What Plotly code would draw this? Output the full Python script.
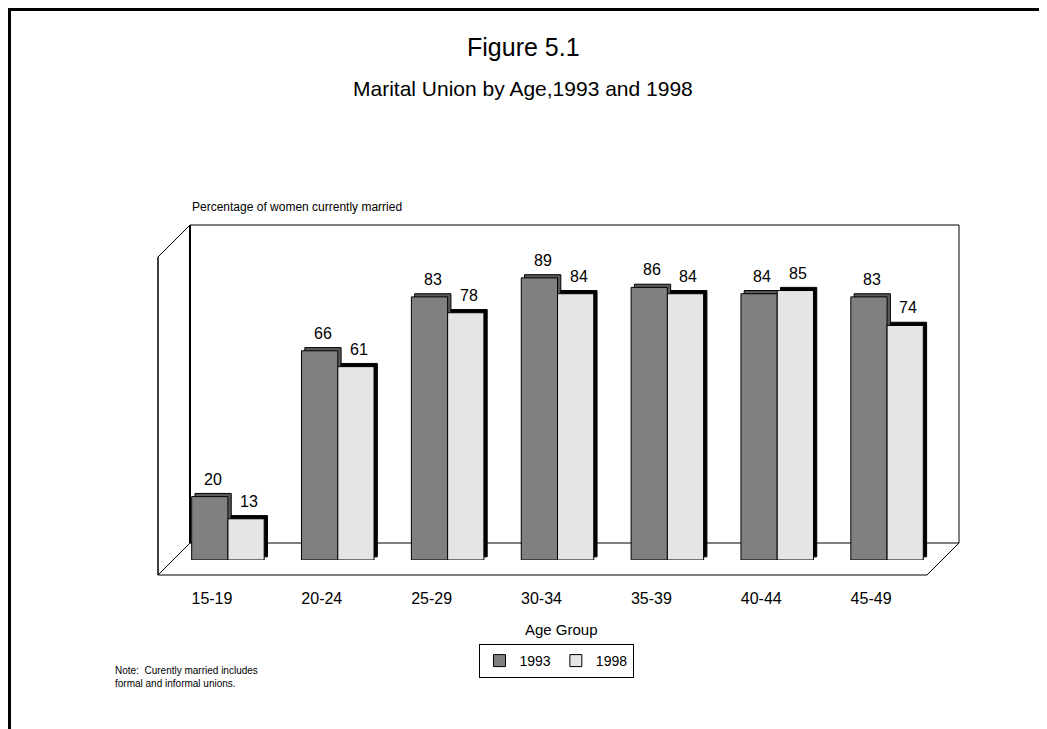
import plotly.graph_objects as go

# -------------------------------
# Data
# -------------------------------
age_groups = ["15-19", "20-24", "25-29", "30-34", "35-39", "40-44", "45-49"]
pct_1993 = [20, 66, 83, 89, 86, 84, 83]
pct_1998 = [13, 61, 78, 84, 84, 85, 74]

FONT = "Liberation Sans, Arial, sans-serif"
PAGE = 8                                   # the html body margin
W, H = 1047 - PAGE, 729 - PAGE
L0, T0, PW, PH = 173, 243, 769, 317        # plot area = middle plane of the 3D box (page pixels)
BAR_W = 0.33                               # bar width in category units
DX, DY = 0.03, 1                           # small 3D depth for each bar


def px(x):
    return (x - L0) / PW


def py(y):
    return (T0 + PH - y) / PH


fig = go.Figure()

# depth ("shadow") of the bars, drawn behind the front faces
fig.add_trace(go.Bar(x=age_groups, y=pct_1993, base=DY, width=BAR_W, offset=-BAR_W + DX,
                     marker=dict(color="#5a5a5a", line=dict(color="black", width=1)),
                     showlegend=False, hoverinfo="skip"))
fig.add_trace(go.Bar(x=age_groups, y=pct_1993, width=BAR_W, offset=-BAR_W, name="1993",
                     marker=dict(color="#808080", line=dict(color="black", width=1))))
fig.add_trace(go.Bar(x=age_groups, y=pct_1998, base=DY, width=BAR_W, offset=DX,
                     marker=dict(color="black", line=dict(color="black", width=1)),
                     showlegend=False, hoverinfo="skip"))
fig.add_trace(go.Bar(x=age_groups, y=pct_1998, width=BAR_W, offset=0, name="1998",
                     marker=dict(color="white", line=dict(color="black", width=1),
                                 pattern=dict(shape=".", fgcolor="#a8a8a8", bgcolor="#f6f6f6",
                                              size=2, solidity=0.5))))

# value labels
for vals, shift in [(pct_1993, -18), (pct_1998, 18)]:
    for a, v in zip(age_groups, vals):
        fig.add_annotation(x=a, y=v, text=str(v), showarrow=False, yanchor="bottom",
                           xshift=shift + 3, yshift=7, font=dict(size=16, color="black"))

# 3D box outline (page pixel positions)
box = [
    ((190, 225), (959, 225), 1), ((959, 225), (959, 543), 1), ((190, 225), (190, 543), 2),
    ((190, 543), (959, 543), 1), ((190, 225), (158, 257), 1), ((158, 257), (158, 575), 1.5),
    ((158, 575), (190, 543), 1), ((158, 575), (927, 575), 1), ((927, 575), (959, 543), 1),
]
for (x0, y0), (x1, y1), w in box:
    fig.add_shape(type="line", xref="paper", yref="paper", x0=px(x0), y0=py(y0),
                  x1=px(x1), y1=py(y1), line=dict(color="black", width=w), layer="below")

# page frame (top and left edges), kept just inside the figure
fig.add_shape(type="line", xref="paper", yref="paper", x0=px(PAGE), y0=py(PAGE + 1.5),
              x1=px(1060), y1=py(PAGE + 1.5), line=dict(color="black", width=3))
fig.add_shape(type="line", xref="paper", yref="paper", x0=px(PAGE + 1.5), y0=py(PAGE),
              x1=px(PAGE + 1.5), y1=py(740), line=dict(color="black", width=3))

# texts
texts = [
    ("Figure 5.1", 523, 47, 25, "center"),
    ("Marital Union by Age,1993 and 1998", 523, 89, 21, "center"),
    ("Percentage of women currently married", 190, 207, 12, "left"),
    ("Age Group", 561, 629, 15, "center"),
    ("Note:  Curently married includes<br>formal and informal unions.", 113, 677, 10, "left"),
]
for t, x, y, s, anchor in texts:
    fig.add_annotation(text=t, xref="paper", yref="paper", x=px(x), y=py(y), showarrow=False,
                       xanchor=anchor, yanchor="middle", align="left",
                       font=dict(size=s, color="black"))

fig.update_layout(
    width=W, height=H,
    margin=dict(l=L0 - PAGE, r=W - (L0 - PAGE) - PW, t=T0 - PAGE, b=H - (T0 - PAGE) - PH),
    barmode="overlay",
    paper_bgcolor="white",
    plot_bgcolor="rgba(0,0,0,0)",
    font=dict(family=FONT, color="black"),
    showlegend=True,
    legend=dict(orientation="h", x=px(556), y=py(661), xanchor="center", yanchor="middle",
                bordercolor="black", borderwidth=1, font=dict(size=14),
                itemwidth=30, tracegroupgap=0, traceorder="normal"),
    xaxis=dict(showgrid=False, showline=False, zeroline=False, ticks="",
               tickfont=dict(size=16), ticklabelshift=-16, ticklabelstandoff=27,
               fixedrange=True),
    yaxis=dict(range=[0, 100], visible=False, fixedrange=True),
)

fig.write_html("out.html")
